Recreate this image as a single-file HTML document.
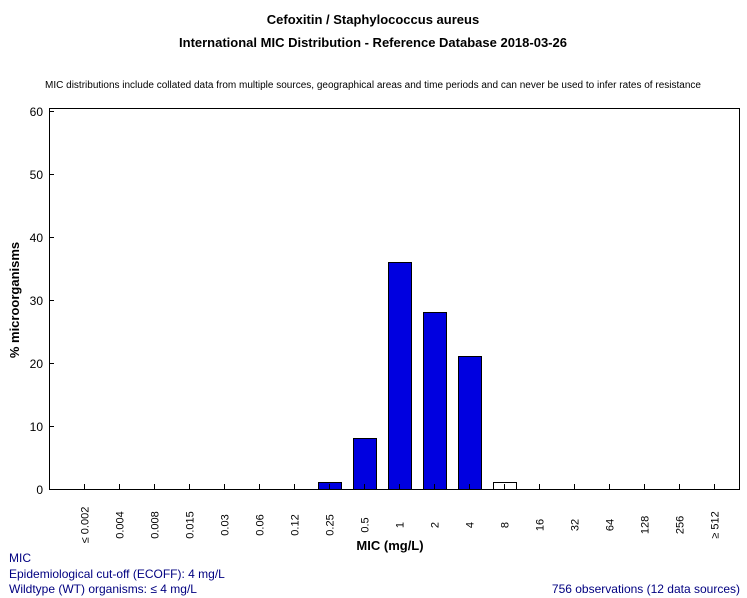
<!DOCTYPE html>
<html><head><meta charset="utf-8"><style>
body{margin:0;background:#fff;width:747px;height:598px;overflow:hidden}
svg{display:block;font-family:"Liberation Sans",sans-serif}
</style></head><body>
<svg width="747" height="598" xmlns="http://www.w3.org/2000/svg">
<text x="373" y="24" font-size="13" font-weight="bold" text-anchor="middle">Cefoxitin / Staphylococcus aureus</text>
<text x="373" y="47" font-size="13" font-weight="bold" text-anchor="middle">International MIC Distribution - Reference Database 2018-03-26</text>
<text x="373" y="88" font-size="10" text-anchor="middle">MIC distributions include collated data from multiple sources, geographical areas and time periods and can never be used to infer rates of resistance</text>
<rect x="49.5" y="108.5" width="690" height="381" fill="none" stroke="#000"/>
<g stroke="#000">
<line x1="49" y1="111.5" x2="54" y2="111.5"/><line x1="49" y1="174.5" x2="54" y2="174.5"/><line x1="49" y1="237.5" x2="54" y2="237.5"/><line x1="49" y1="300.5" x2="54" y2="300.5"/><line x1="49" y1="363.5" x2="54" y2="363.5"/><line x1="49" y1="426.5" x2="54" y2="426.5"/>
</g>
<g font-size="12" text-anchor="end">
<text x="43" y="116">60</text><text x="43" y="179">50</text><text x="43" y="242">40</text><text x="43" y="305">30</text><text x="43" y="368">20</text><text x="43" y="431">10</text><text x="43" y="494">0</text>
</g>
<text transform="translate(19,300) rotate(-90)" font-size="13" font-weight="bold" text-anchor="middle">% microorganisms</text>
<g fill="#0000e0" stroke="#000">
<rect x="318.5" y="482.5" width="23" height="7"/>
<rect x="353.5" y="438.5" width="23" height="51"/>
<rect x="388.5" y="262.5" width="23" height="227"/>
<rect x="423.5" y="312.5" width="23" height="177"/>
<rect x="458.5" y="356.5" width="23" height="133"/>
<rect x="493.5" y="482.5" width="23" height="7" fill="#fff"/>
</g>
<g stroke="#000" id="ticks"></g>
<g font-size="11" text-anchor="middle" id="labs"></g>
<text x="390" y="550" font-size="13" font-weight="bold" text-anchor="middle">MIC (mg/L)</text>
<g font-size="12" fill="#000080">
<text x="9" y="562">MIC</text>
<text x="9" y="578">Epidemiological cut-off (ECOFF): 4 mg/L</text>
<text x="9" y="593">Wildtype (WT) organisms: ≤ 4 mg/L</text>
<text x="740" y="593" text-anchor="end">756 observations (12 data sources)</text>
</g>
<script>
var L=["≤ 0.002","0.004","0.008","0.015","0.03","0.06","0.12","0.25","0.5","1","2","4","8","16","32","64","128","256","≥ 512"];
var t=document.getElementById("ticks"),l=document.getElementById("labs"),ns="http://www.w3.org/2000/svg";
L.forEach(function(s,i){var x=84.5+35*i;
var ln=document.createElementNS(ns,"line");ln.setAttribute("x1",x);ln.setAttribute("x2",x);ln.setAttribute("y1",484);ln.setAttribute("y2",489);t.appendChild(ln);
var tx=document.createElementNS(ns,"text");tx.setAttribute("transform","translate("+(x+4)+",525) rotate(-90)");tx.textContent=s;l.appendChild(tx);});
</script>
</svg>
</body></html>
